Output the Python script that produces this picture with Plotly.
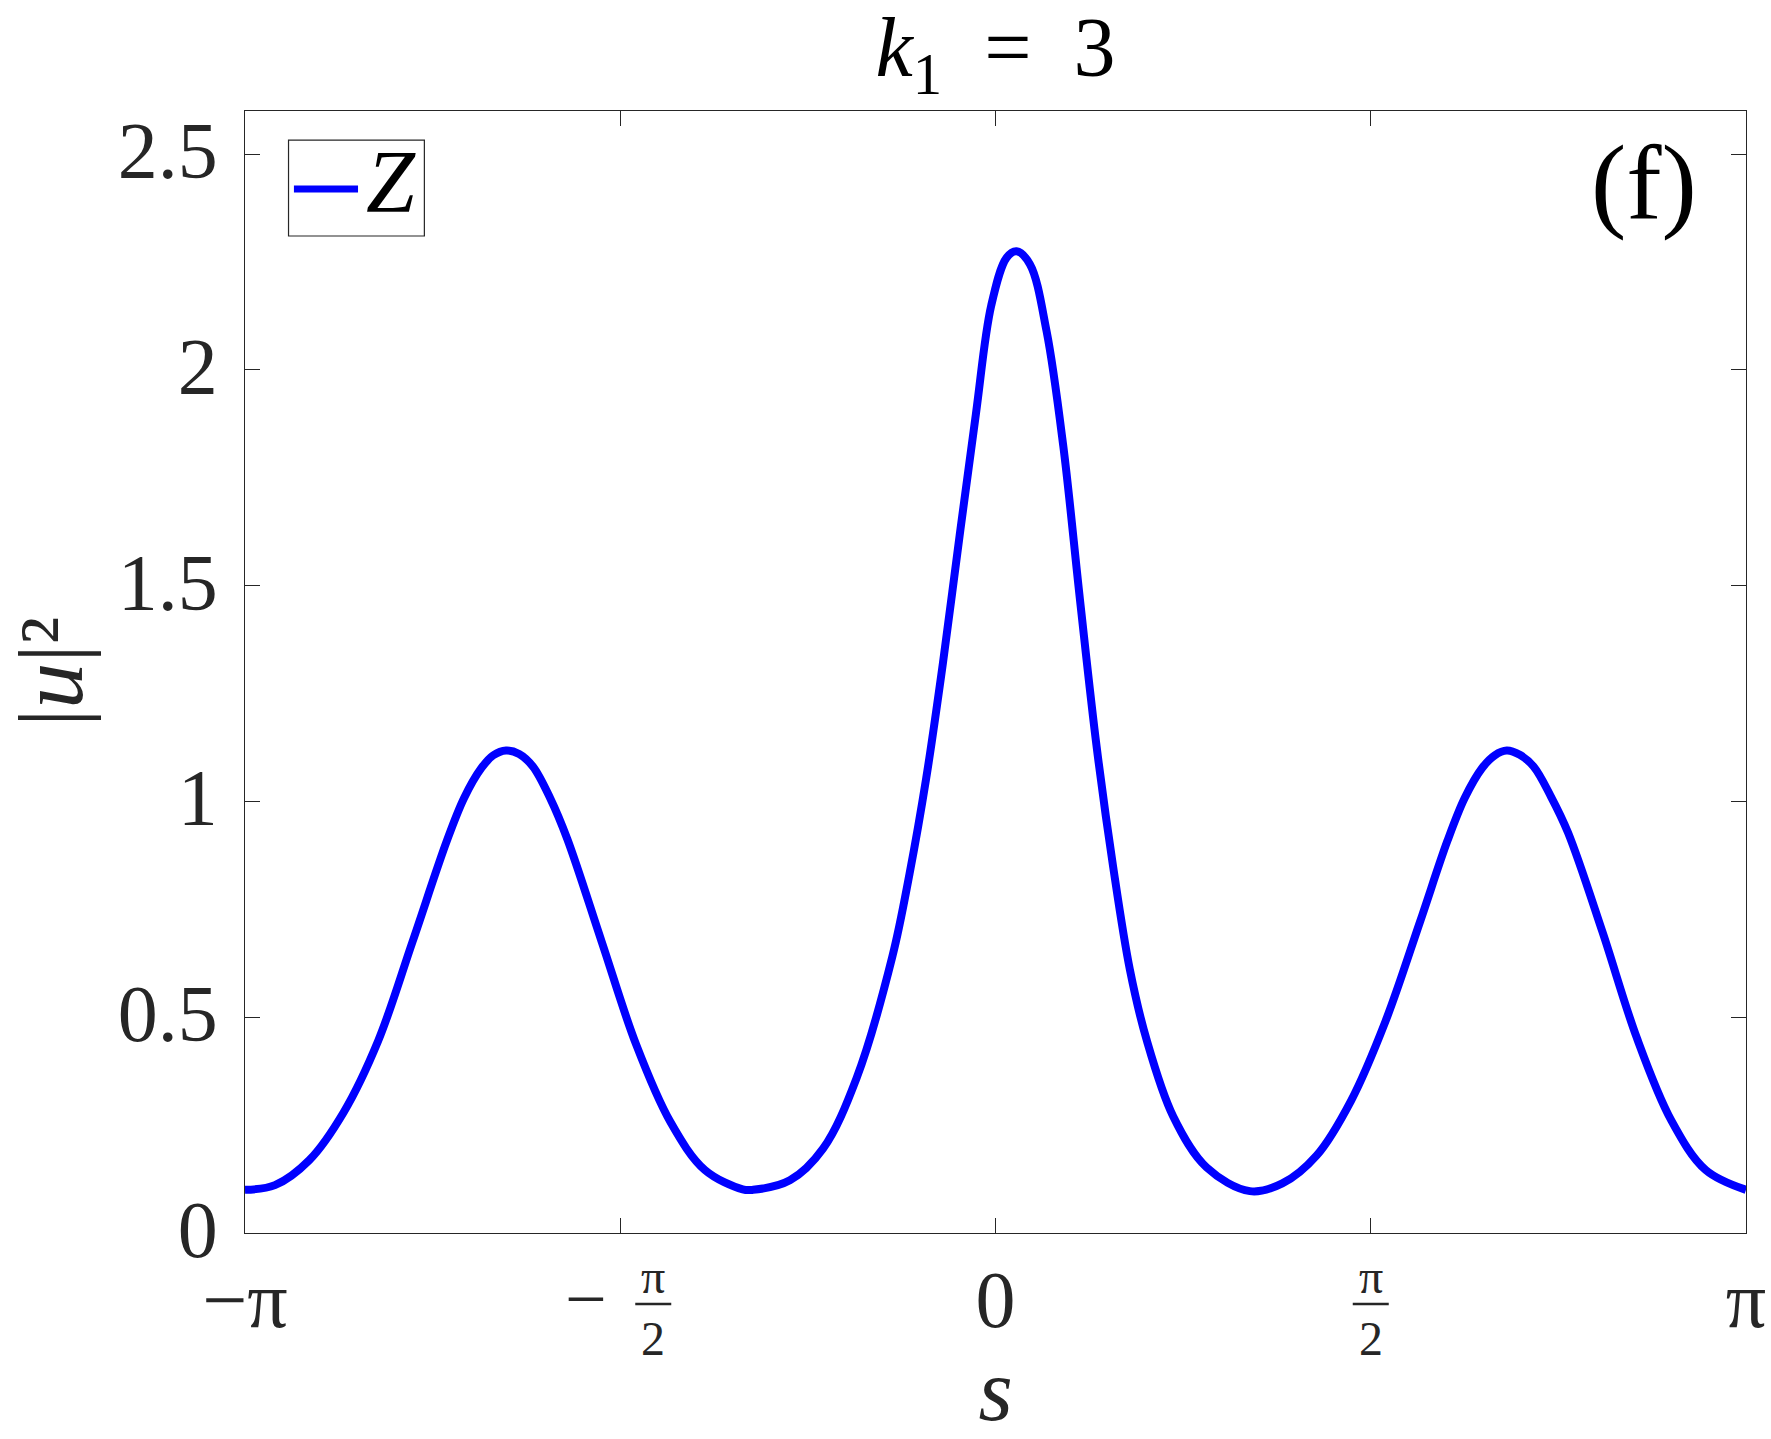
import numpy as np
import plotly.graph_objects as go

# |u|^2, s in [-pi, pi]
S = [
    -3.1416, -3.0163, -2.8724, -2.7284, -2.5844, -2.4404, -2.2964, -2.2245,
    -2.1525, -2.1021, -2.0488, -1.9941, -1.9365, -1.8645, -1.7925, -1.6485,
    -1.5045, -1.3606, -1.2166, -1.0582, -1.0150, -0.8607, -0.7212, -0.5815,
    -0.4320, -0.3600, -0.2900, -0.2200, -0.1500, -0.0820, -0.0180, 0.0463,
    0.0882, 0.1440, 0.2137, 0.2836, 0.3533, 0.4231, 0.4929, 0.5626,
    0.6324, 0.7440, 0.8835, 1.0650, 1.2005, 1.3446, 1.4887, 1.6328,
    1.7769, 1.8920, 1.9640, 2.0363, 2.0900, 2.1400, 2.1947, 2.2524,
    2.3245, 2.3965, 2.5406, 2.6847, 2.8288, 2.9729, 3.1416,
]
U2 = [
    0.100, 0.111, 0.169, 0.280, 0.445, 0.675, 0.909, 1.008,
    1.077, 1.107, 1.118, 1.110, 1.081, 1.008, 0.913, 0.675,
    0.437, 0.257, 0.146, 0.101, 0.100, 0.122, 0.196, 0.359,
    0.640, 0.832, 1.054, 1.321, 1.617, 1.898, 2.149, 2.260,
    2.275, 2.245, 2.090, 1.824, 1.469, 1.128, 0.847, 0.610,
    0.448, 0.270, 0.152, 0.097, 0.115, 0.180, 0.307, 0.491,
    0.721, 0.909, 1.008, 1.077, 1.107, 1.118, 1.108, 1.081,
    1.012, 0.928, 0.698, 0.452, 0.261, 0.146, 0.100,
]

# plain x tick labels; the +-pi/2 ticks get stacked fraction labels below
X_TICKS = [-np.pi, 0, np.pi]
X_LABELS = ["−π", "0", "π"]
FRAC_TICKS = [-np.pi / 2, np.pi / 2]
FRAC_SIGNS = ["−", ""]
Y_TICKS = [0, 0.5, 1, 1.5, 2, 2.5]
Y_LABELS = ["0", "0.5", "1", "1.5", "2", "2.5"]

SERIF = "Liberation Serif, Times New Roman, serif"
GRAY = "#262626"

fig = go.Figure()
fig.add_trace(
    go.Scatter(
        x=S,
        y=U2,
        mode="lines",
        line=dict(color="#0000ff", width=8, shape="spline", smoothing=1.0),
        name="Z",
        showlegend=False,
    )
)

axis_style = dict(
    ticks="inside",
    ticklen=15,
    tickwidth=1.3,
    tickcolor=GRAY,
    showline=True,
    linecolor=GRAY,
    linewidth=1.3,
    mirror="ticks",
    showgrid=False,
    zeroline=False,
    automargin=False,
    tickfont=dict(family=SERIF, size=80, color=GRAY),
)
fig.update_xaxes(
    range=[-np.pi, np.pi],
    tickvals=X_TICKS,
    ticktext=X_LABELS,
    ticklabelstandoff=-3,
    minor=dict(tickvals=FRAC_TICKS, ticks="inside", ticklen=15, tickwidth=1.3,
               tickcolor=GRAY, showgrid=False),
    title=dict(text="<i>s</i>", font=dict(family=SERIF, size=88, color=GRAY), standoff=80),
    **axis_style,
)
fig.update_yaxes(
    range=[0, 2.6],
    tickvals=Y_TICKS,
    ticktext=Y_LABELS,
    ticklabelstandoff=10,
    ticklabelshift=-4,
    **axis_style,
)

# y label as a rotated annotation, tucked against the left edge like the original
fig.add_annotation(x=-0.1292, y=0.5, xref="paper", yref="paper", text="|<i>u</i>|²",
                   textangle=-90, showarrow=False, xanchor="center", yanchor="middle",
                   font=dict(family=SERIF, size=92, color=GRAY))

# stacked pi/2 tick labels: one two-line text plus a fraction bar
for t, sign in zip(FRAC_TICKS, FRAC_SIGNS):
    dx = 33 if sign else 0
    fig.add_annotation(x=t, xref="x", y=0, yref="paper", text="π<br>2", showarrow=False,
                       xshift=dx, yshift=-74, xanchor="center", yanchor="middle",
                       font=dict(family=SERIF, size=48, color=GRAY))
    fig.add_shape(type="line", xref="x", xsizemode="pixel", xanchor=t, x0=dx - 18, x1=dx + 18,
                  yref="paper", ysizemode="pixel", yanchor=0, y0=-71, y1=-71,
                  line=dict(color=GRAY, width=2.5))
    if sign:
        fig.add_annotation(x=t, xref="x", y=0, yref="paper", text=sign, showarrow=False,
                           xshift=-34, yshift=-66, xanchor="center", yanchor="middle",
                           font=dict(family=SERIF, size=74, color=GRAY))

# legend box drawn by hand (MATLAB-style long sample line)
fig.add_shape(type="rect", xref="paper", yref="paper", x0=0.029, x1=0.1195, y0=0.8886, y1=0.974,
              line=dict(color=GRAY, width=1.2), fillcolor="white")
fig.add_shape(type="line", xref="paper", yref="paper", x0=0.0326, x1=0.0753, y0=0.9305, y1=0.9305,
              line=dict(color="#0000ff", width=7))
fig.add_annotation(x=0.0973, y=0.9376, xref="paper", yref="paper", text="<i>Z</i>", showarrow=False,
                   xanchor="center", yanchor="middle",
                   font=dict(family=SERIF, size=88, color="black"))

fig.add_annotation(x=0.932, y=0.936, xref="paper", yref="paper", text="(f)", showarrow=False,
                   xanchor="center", yanchor="middle",
                   font=dict(family=SERIF, size=106, color="black"))

fig.update_layout(
    template="none",
    width=1771,
    height=1439,
    margin=dict(l=245, r=25, t=111, b=206),
    plot_bgcolor="white",
    paper_bgcolor="white",
    font=dict(family=SERIF, color=GRAY),
    title=dict(text="<i>k</i><sub>1</sub>\u2002=\u20023", x=0.5, xref="paper", xanchor="center",
               y=0.9676, yref="container", yanchor="middle",
               font=dict(family=SERIF, size=84, color="black")),
)

# drop the default 8px body margin so the figure fills the window exactly
fig.write_html(
    "out.html",
    config={"displayModeBar": False},
    post_script="document.body.style.margin = '0';",
)
